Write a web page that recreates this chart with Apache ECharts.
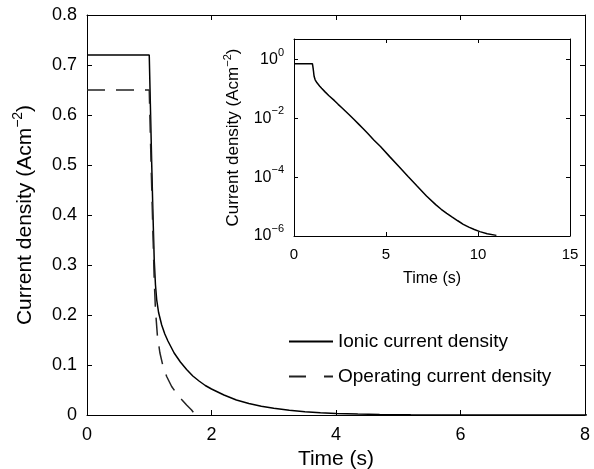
<!DOCTYPE html>
<html>
<head>
<meta charset="utf-8">
<script src="https://cdn.jsdelivr.net/npm/echarts@6/dist/echarts.min.js"></script>
<style>
  html, body { margin: 0; padding: 0; background: #fff; }
  #chart { width: 594px; height: 469px; }
</style>
</head>
<body>
<div id="chart"></div>
<script>
// ionic current density vs time
var ionicTime = [0, 1.0, 1.02, 1.04, 1.06, 1.08, 1.10, 1.12, 1.15, 1.2, 1.25, 1.3, 1.4, 1.5, 1.6, 1.7, 1.8, 1.9, 2.0,
    2.2, 2.4, 2.6, 2.8, 3.0, 3.25, 3.5, 3.75, 4.0, 4.35, 4.7, 5.2, 5.7, 6.2, 6.7, 7.2, 7.7, 8.0, 8.3, 8.6, 8.9,
    9.2, 9.5, 9.8, 10.1, 10.5, 11.0];
var ionicValue = [0.72, 0.72, 0.61, 0.50, 0.40, 0.31, 0.26, 0.23, 0.205, 0.18, 0.162, 0.148, 0.124, 0.106, 0.091, 0.078,
    0.068, 0.059, 0.052, 0.040, 0.030, 0.023, 0.0175, 0.0133, 0.0093, 0.0065, 0.0045, 0.0031, 0.0018, 0.0011,
    5.0e-4, 2.3e-4, 1.05e-4, 4.9e-5, 2.3e-5, 1.17e-5, 8.1e-6, 5.9e-6, 4.4e-6, 3.3e-6, 2.5e-6, 2.0e-6, 1.66e-6,
    1.41e-6, 1.2e-6, 1.05e-6];

// operating current density vs time
var operatingTime = [0, 1.0, 1.03, 1.06, 1.08, 1.10, 1.13, 1.17, 1.22, 1.28, 1.36, 1.44, 1.52, 1.6, 1.68, 1.74];
var operatingValue = [0.65, 0.65, 0.5, 0.36, 0.27, 0.21, 0.16, 0.125, 0.098, 0.077, 0.057, 0.043, 0.031, 0.02, 0.01, 0];

var seriesNames = ['Ionic current density', 'Operating current density'];
var dashPattern = [18, 11];

function pairs(xs, ys) {
    var out = [];
    for (var i = 0; i < xs.length; i++) out.push([xs[i], ys[i]]);
    return out;
}

var font = 'Liberation Sans, Arial, Helvetica, sans-serif';
var black = '#000';

function frameAxis(extra) {
    var a = {
        type: 'value',
        axisLine: { show: true, onZero: false, lineStyle: { color: black, width: 1 } },
        axisTick: { show: true, inside: true, length: 5, lineStyle: { color: black } },
        axisLabel: { show: false },
        splitLine: { show: false }
    };
    for (var k in extra) a[k] = extra[k];
    return a;
}

function logLabel(v) {
    var e = Math.log10(v);
    var r = Math.round(e);
    if (Math.abs(e - r) > 1e-6) return '';
    return '{b|10}{s|' + (r < 0 ? '\u2212' + (-r) : r) + '}';
}

var myChart = echarts.init(document.getElementById('chart'));

var option = {
    backgroundColor: '#fff',
    animation: false,
    textStyle: { fontFamily: font },
    grid: [
        { left: 87, top: 15, width: 498, height: 400, outerBoundsMode: 'none', containLabel: false },
        { left: 294, top: 39, width: 276, height: 197, outerBoundsMode: 'none', containLabel: false,
          show: true, backgroundColor: '#fff', borderWidth: 0, z: 5 }
    ],
    legend: {
        data: [
            { name: seriesNames[0], itemStyle: { opacity: 0 } },
            { name: seriesNames[1], itemStyle: { opacity: 0 }, lineStyle: { type: [17, 18] } }
        ],
        orient: 'vertical',
        left: 288,
        top: 332,
        padding: 0,
        itemWidth: 44,
        itemHeight: 14,
        itemGap: 16,
        textStyle: { fontSize: 19, color: black, fontFamily: font }
    },
    xAxis: [
        frameAxis({
            gridIndex: 0, position: 'bottom', min: 0, max: 8, interval: 2,
            axisLabel: { show: true, fontSize: 18, color: black, margin: 11, fontFamily: font },
            name: 'Time (s)', nameLocation: 'middle', nameGap: 31,
            nameTextStyle: { fontSize: 21, color: black, fontFamily: font }
        }),
        frameAxis({ gridIndex: 0, position: 'top', min: 0, max: 8, interval: 2 }),
        frameAxis({
            gridIndex: 1, position: 'bottom', min: 0, max: 15, interval: 5, z: 6,
            axisTick: { show: true, inside: true, length: 4, lineStyle: { color: black } },
            axisLabel: { show: true, fontSize: 15, color: black, margin: 11, fontFamily: font },
            name: 'Time (s)', nameLocation: 'middle', nameGap: 35,
            nameTextStyle: { fontSize: 16, color: black, fontFamily: font }
        }),
        frameAxis({
            gridIndex: 1, position: 'top', min: 0, max: 15, interval: 5, z: 6,
            axisTick: { show: true, inside: true, length: 4, lineStyle: { color: black } }
        })
    ],
    yAxis: [
        frameAxis({
            gridIndex: 0, position: 'left', min: 0, max: 0.8, interval: 0.1,
            axisLabel: {
                show: true, fontSize: 18, color: black, margin: 10, fontFamily: font,
                formatter: function (v) { return v === 0 ? '0' : v.toFixed(1); }
            },
            name: 'Current density (Acm{s|\u22122})', nameLocation: 'middle', nameGap: 48,
            nameTextStyle: {
                fontSize: 21, color: black, fontFamily: font,
                rich: { s: { fontSize: 14, color: black, fontFamily: font, padding: [0, 0, 14, 0] } }
            }
        }),
        frameAxis({ gridIndex: 0, position: 'right', min: 0, max: 0.8, interval: 0.1 }),
        frameAxis({
            gridIndex: 1, type: 'log', logBase: 10, position: 'left', min: 1e-6, max: 5, interval: 2, z: 6,
            axisTick: { show: true, inside: true, length: 4, lineStyle: { color: black } },
            axisLabel: {
                show: true, margin: 10, formatter: logLabel, showMaxLabel: false,
                rich: {
                    b: { fontSize: 16, color: black, fontFamily: font },
                    s: { fontSize: 11, color: black, fontFamily: font, padding: [0, 0, 14, 0] }
                }
            },
            name: 'Current density (Acm{s|\u22122})', nameLocation: 'middle', nameGap: 50,
            nameTextStyle: {
                fontSize: 17, color: black, fontFamily: font,
                rich: { s: { fontSize: 11, color: black, fontFamily: font, padding: [0, 0, 11, 0] } }
            }
        }),
        frameAxis({
            gridIndex: 1, type: 'log', logBase: 10, position: 'right', min: 1e-6, max: 5, interval: 2, z: 6,
            axisTick: { show: true, inside: true, length: 4, lineStyle: { color: black } }
        })
    ],
    series: [
        {
            name: seriesNames[0], type: 'line', xAxisIndex: 0, yAxisIndex: 0,
            data: pairs(ionicTime, ionicValue),
            showSymbol: false, symbol: 'none',
            lineStyle: { color: black, width: 1.5 },
            itemStyle: { color: black }
        },
        {
            name: seriesNames[1], type: 'line', xAxisIndex: 0, yAxisIndex: 0,
            data: pairs(operatingTime, operatingValue),
            showSymbol: false, symbol: 'none',
            lineStyle: { color: '#222', width: 1.5, type: dashPattern },
            itemStyle: { color: '#222' }
        },
        {
            name: 'inset', type: 'line', xAxisIndex: 2, yAxisIndex: 2, z: 7,
            data: pairs(ionicTime, ionicValue),
            showSymbol: false, symbol: 'none',
            lineStyle: { color: black, width: 1.5 }
        }
    ]
};

myChart.setOption(option);

window.addEventListener('resize', function () {
    myChart.resize();
});
</script>
</body>
</html>
